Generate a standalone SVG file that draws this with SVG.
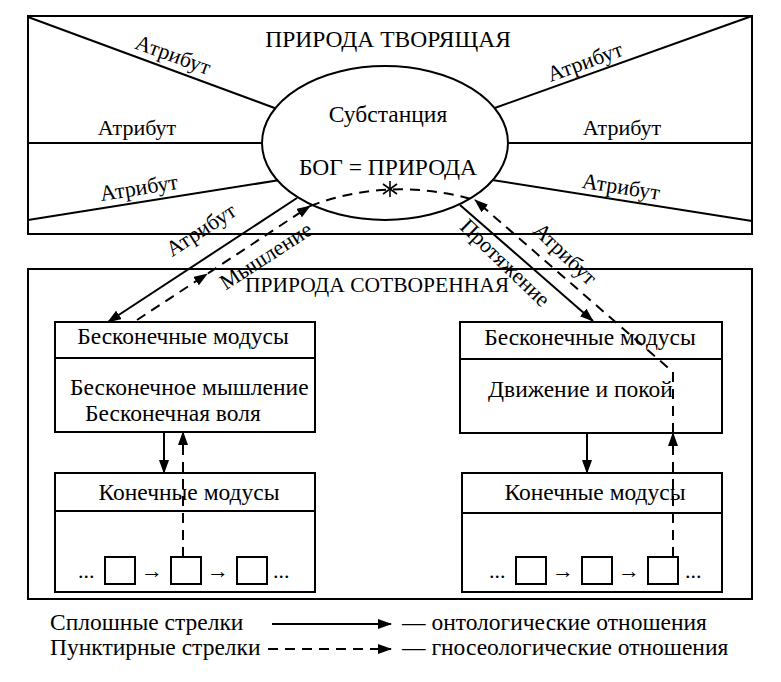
<svg xmlns="http://www.w3.org/2000/svg" width="781" height="682" viewBox="0 0 781 682">
<style>
text{font-family:"Liberation Serif","Times New Roman",serif;fill:#000}
.t22{font-size:22px}
.t23{font-size:23.5px}
.lg{font-size:23.5px}
.mid{text-anchor:middle}
.frame{fill:none;stroke:#000;stroke-width:2}
.box{fill:#fff;stroke:#000;stroke-width:2}
.ln{fill:none;stroke:#000;stroke-width:2}
.dash{fill:none;stroke:#000;stroke-width:2;stroke-dasharray:10 7}
.sq{fill:#fff;stroke:#000;stroke-width:2}
</style>
<defs>
<marker id="ah" markerUnits="userSpaceOnUse" markerWidth="14" markerHeight="10" refX="13" refY="5" orient="auto">
<path d="M0,0 L14,5 L0,10 z" fill="#000"/>
</marker>
</defs>
<rect x="0" y="0" width="781" height="682" fill="#fff"/>

<g id="natura-naturans">
<rect class="frame" x="28" y="16" width="724" height="218"/>
<line class="ln" x1="28" y1="17" x2="280" y2="110"/>
<line class="ln" x1="28" y1="143" x2="265" y2="143"/>
<line class="ln" x1="28" y1="220" x2="280" y2="180"/>
<line class="ln" x1="752" y1="16" x2="492" y2="109"/>
<line class="ln" x1="752" y1="143" x2="505" y2="143"/>
<line class="ln" x1="752" y1="221" x2="492" y2="180"/>
<text class="t23 mid" x="388" y="47">ПРИРОДА ТВОРЯЩАЯ</text>
<text class="t22 mid" transform="translate(173,55) rotate(20)" y="7">Атрибут</text>
<text class="t22 mid" x="137" y="135">Атрибут</text>
<text class="t22 mid" transform="translate(139,188) rotate(-9)" y="7">Атрибут</text>
<text class="t22 mid" transform="translate(585,62) rotate(-20)" y="7">Атрибут</text>
<text class="t22 mid" x="622" y="135">Атрибут</text>
<text class="t22 mid" transform="translate(621,187) rotate(9)" y="7">Атрибут</text>
</g>

<g id="substance">
<ellipse cx="385" cy="143" rx="123" ry="77" fill="#fff" stroke="#000" stroke-width="2"/>
<text class="t23 mid" x="388" y="122">Субстанция</text>
<text class="t23 mid" x="388" y="175">БОГ = ПРИРОДА</text>
<g stroke="#000" stroke-width="1.6">
<line x1="390" y1="181" x2="390" y2="197"/>
<line x1="383" y1="184" x2="397" y2="194"/>
<line x1="397" y1="184" x2="383" y2="194"/>
</g>
</g>

<g id="natura-naturata">
<rect class="frame" x="28" y="269" width="724" height="330"/>
<text class="t22 mid" x="377" y="292" style="font-size:21.5px">ПРИРОДА СОТВОРЕННАЯ</text>
</g>

<g id="inf-modes-left">
<rect class="box" x="55" y="322" width="260" height="110"/>
<line class="ln" x1="55" y1="358" x2="315" y2="358"/>
<text class="t23 mid" x="183" y="344">Бесконечные модусы</text>
<text class="t23" x="70" y="395">Бесконечное мышление</text>
<text class="t23" x="85" y="421">Бесконечная воля</text>
</g>

<g id="inf-modes-right">
<rect class="box" x="460" y="322" width="262" height="111"/>
<line class="ln" x1="460" y1="359" x2="722" y2="359"/>
<text class="t23 mid" x="590" y="345">Бесконечные модусы</text>
<text class="t23" x="488" y="397">Движение и покой</text>
</g>

<g id="fin-modes-left">
<rect class="box" x="55" y="473" width="260" height="119"/>
<line class="ln" x1="55" y1="511" x2="315" y2="511"/>
<text class="t23 mid" x="189" y="500">Конечные модусы</text>
<text class="t22" x="78" y="578">...</text>
<rect class="sq" x="105" y="557" width="30" height="27"/>
<text class="t22" x="141" y="578">→</text>
<rect class="sq" x="171" y="557" width="30" height="27"/>
<text class="t22" x="207" y="578">→</text>
<rect class="sq" x="237" y="557" width="30" height="27"/>
<text class="t22" x="273" y="578">...</text>
</g>

<g id="fin-modes-right">
<rect class="box" x="462" y="473" width="260" height="119"/>
<line class="ln" x1="462" y1="513" x2="722" y2="513"/>
<text class="t23 mid" x="595" y="500">Конечные модусы</text>
<text class="t22" x="489" y="578">...</text>
<rect class="sq" x="516" y="557" width="30" height="27"/>
<text class="t22" x="552" y="578">→</text>
<rect class="sq" x="582" y="557" width="30" height="27"/>
<text class="t22" x="618" y="578">→</text>
<rect class="sq" x="648" y="557" width="30" height="27"/>
<text class="t22" x="685" y="578">...</text>
</g>

<g id="connectors">
<line class="ln" x1="297" y1="198" x2="108" y2="322" marker-end="url(#ah)"/>
<line class="ln" x1="460" y1="205" x2="593" y2="321" marker-end="url(#ah)"/>
<polyline class="dash" points="137,320 207,274 310,206" marker-mid="url(#ah)" marker-end="url(#ah)"/>
<path class="dash" d="M310,206 Q390,176 475,200"/>
<path class="dash" d="M673,557 L673,433" marker-end="url(#ah)"/>
<path class="dash" d="M673,433 L673,372 L475,200" marker-end="url(#ah)"/>
<line class="ln" x1="164" y1="432" x2="164" y2="473" marker-end="url(#ah)"/>
<path class="dash" d="M183,557 L183,432" marker-end="url(#ah)"/>
<line class="ln" x1="587" y1="433" x2="587" y2="473" marker-end="url(#ah)"/>
<text class="t22 mid" transform="translate(201,230) rotate(-33)" y="7">Атрибут</text>
<text class="t22 mid" transform="translate(266,256) rotate(-33)" y="7">Мышление</text>
<text class="t22 mid" transform="translate(505,263) rotate(44)" y="7">Протяжение</text>
<text class="t22 mid" transform="translate(565,254) rotate(44)" y="7">Атрибут</text>
</g>

<g id="legend">
<text class="lg" x="50" y="630">Сплошные стрелки</text>
<line class="ln" x1="272" y1="624" x2="391" y2="624" marker-end="url(#ah)"/>
<text class="lg" x="402" y="630">— онтологические отношения</text>
<text class="lg" x="50" y="655">Пунктирные стрелки</text>
<line class="dash" x1="268" y1="649" x2="391" y2="649" marker-end="url(#ah)"/>
<text class="lg" x="402" y="655">— гносеологические отношения</text>
</g>
</svg>
